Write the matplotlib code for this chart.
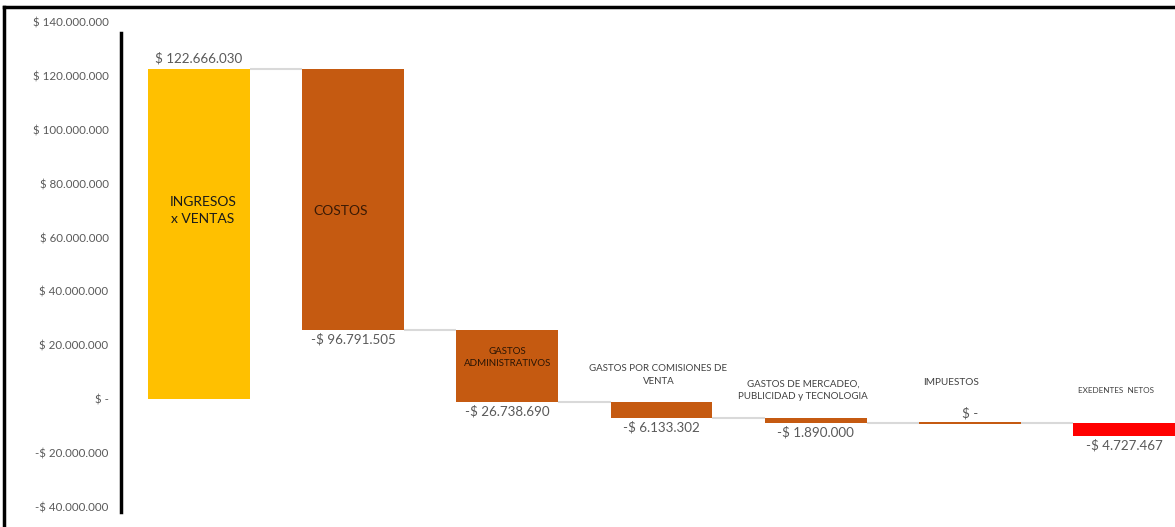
import matplotlib
matplotlib.use("Agg")
import matplotlib.pyplot as plt
from matplotlib.lines import Line2D
import numpy as np

plt.rcParams['font.family'] = ['Lato', 'DejaVu Sans']

categories = ["INGRESOS\nx VENTAS", "COSTOS", "GASTOS\nADMINISTRATIVOS",
              "GASTOS POR COMISIONES DE\nVENTA",
              "GASTOS DE MERCADEO,\nPUBLICIDAD y TECNOLOGIA",
              "IMPUESTOS", "EXEDENTES  NETOS"]
values = [122666030, -96791505, -26738690, -6133302, -1890000, 0, -4727467]
colors = ["#FFC000", "#C55A11", "#C55A11", "#C55A11", "#C55A11", "#C55A11", "#FF0000"]
yticks = [-40000000, -20000000, 0, 20000000, 40000000, 60000000, 80000000,
          100000000, 120000000, 140000000]


def fmt(v):
    if v == 0:
        return "$ -"
    s = f"{abs(v):,}".replace(",", ".")
    return ("-$ " if v < 0 else "$ ") + s


fig = plt.figure(figsize=(11.75, 5.27), dpi=100)
ax = fig.add_axes([121 / 1175, 14.6 / 527, 1 - 121 / 1175, (512.4 - 22) / 527])

x = np.arange(len(values))
w = 0.66
ends = np.cumsum(values)
starts = ends - np.array(values)
bottoms = np.minimum(starts, ends)
heights = np.abs(values)
heights = np.where(heights == 0, 700000, heights)
bottoms = np.where(np.array(values) == 0, ends - 350000, bottoms)

ax.bar(x, heights, bottom=bottoms, width=w, color=colors, edgecolor="none", zorder=3)

# connectors
for i in range(len(values) - 1):
    ax.plot([x[i] + w / 2, x[i + 1] - w / 2], [ends[i], ends[i]],
            color="#D9D9D9", lw=1.5, zorder=2, solid_capstyle="butt")

ax.set_xlim(-0.505, 6.33)
ax.set_ylim(-42000000, 140000000)
ax.set_yticks(yticks)
ax.set_yticklabels([fmt(v) for v in yticks], color="#595959", fontsize=8.3)
ax.tick_params(axis="y", length=0, pad=9)
ax.set_xticks([])
for s in ["top", "right", "bottom"]:
    ax.spines[s].set_visible(False)
ax.spines["left"].set_linewidth(2.5)
ax.spines["left"].set_bounds(-41850000, 135900000)

vc = "#595959"
vfs = 9.6
# value labels
ax.text(x[0], ends[0] + 1500000, fmt(values[0]), ha="center", va="bottom", color=vc, fontsize=vfs)
for i in range(1, len(values)):
    if values[i] == 0:
        ax.text(x[i], ends[i] + 1500000, fmt(values[i]), ha="center", va="bottom", color=vc, fontsize=vfs)
    else:
        ax.text(x[i], ends[i] - 1200000, fmt(values[i]), ha="center", va="top", color=vc, fontsize=vfs)

# category labels
ax.text(x[0] + 0.025, 70000000, categories[0], ha="center", va="center", color="#1a1a1a",
        fontsize=10, linespacing=1.55)
ax.text(x[1] - 0.08, 70000000, categories[1], ha="center", va="center", color="#3a1a05",
        fontsize=10)
ax.text(x[2], 15600000, categories[2], ha="center", va="center", color="#2a1505",
        fontsize=7, linespacing=1.45)
ax.text(x[3] - 0.02, 8900000, categories[3], ha="center", va="center", color="#404040",
        fontsize=7, linespacing=1.6)
ax.text(x[4] - 0.08, 3300000, categories[4], ha="center", va="center", color="#404040",
        fontsize=7, linespacing=1.5)
ax.text(x[5] - 0.12, 6300000, categories[5], ha="center", va="center", color="#404040",
        fontsize=7.2)
ax.text(x[6] - 0.05, 3300000, categories[6], ha="center", va="center", color="#404040",
        fontsize=5.9)

# frame lines
fig.add_artist(Line2D([4 / 1175, 4 / 1175], [0, 1 - 7 / 527], color="black", lw=2.5,
                      transform=fig.transFigure))
fig.add_artist(Line2D([4 / 1175, 1], [1 - 7 / 527, 1 - 7 / 527], color="black", lw=2.5,
                      transform=fig.transFigure))

fig.savefig("out.png", dpi=100)
